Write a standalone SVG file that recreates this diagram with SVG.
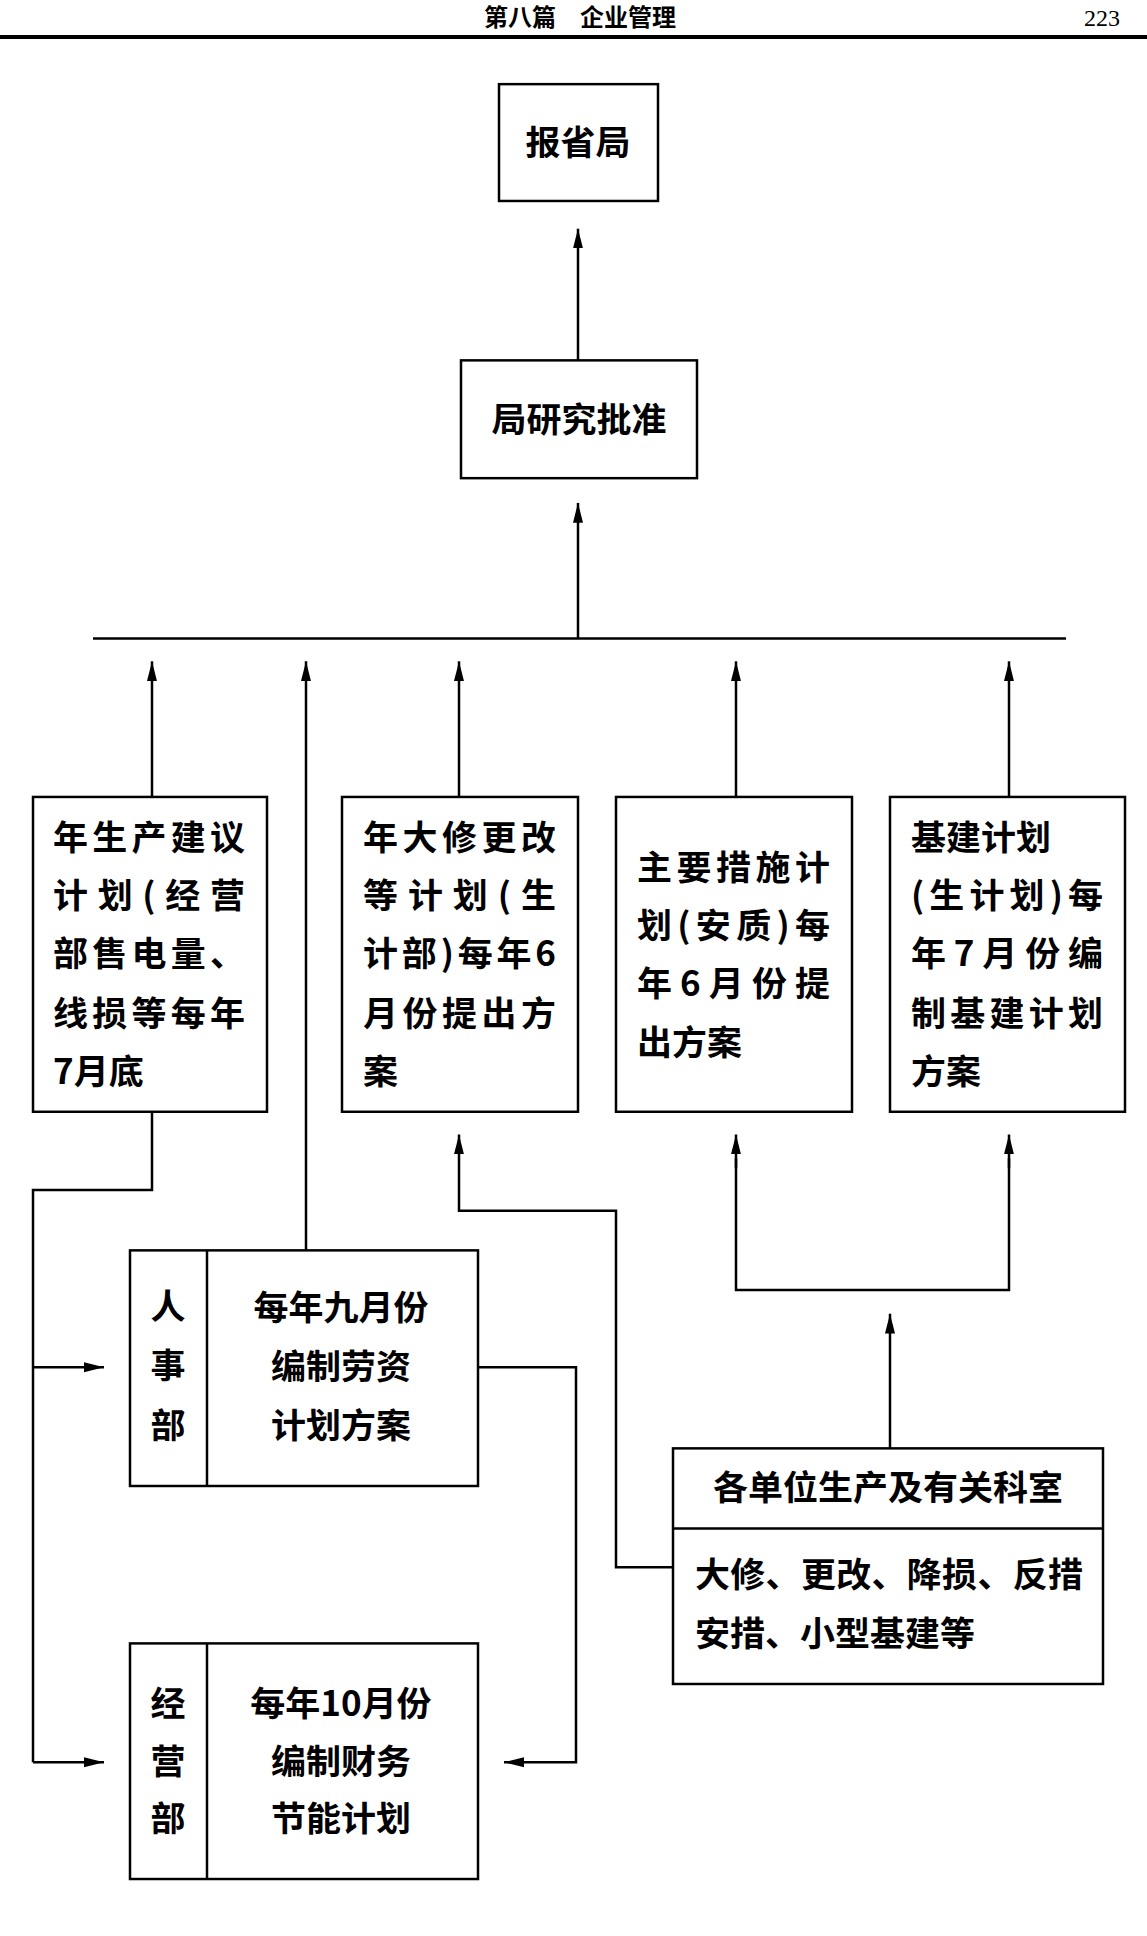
<svg xmlns="http://www.w3.org/2000/svg" width="1147" height="1936" viewBox="0 0 1147 1936">
<style>
.b{fill:#fff;stroke:#000;stroke-width:2.5}
.l{fill:none;stroke:#000;stroke-width:2.5}
text{font-family:"Noto Sans CJK SC","Noto Sans",sans-serif;font-size:35px;font-weight:bold;fill:#000}
.c{text-anchor:middle}
</style>
<defs><marker id="a" markerWidth="22" markerHeight="12" refX="20" refY="6" orient="auto" markerUnits="userSpaceOnUse" viewBox="0 0 22 12"><path d="M0,1 L20,6 L0,11 Z" fill="#000"/></marker></defs>
<rect width="1147" height="1936" fill="#fff"/>
<text x="580" y="26" class="c" style="font-size:24px">第八篇　企业管理</text>
<text x="1120" y="26" style="font-size:24px;font-family:'Liberation Serif',serif;font-weight:normal;text-anchor:end">223</text>
<line x1="0" y1="37" x2="1147" y2="37" stroke="#000" stroke-width="4"/>
<g transform="scale(1,0.99)">
<g id="connectors">
<line class="l" x1="578" y1="364" x2="578" y2="231" marker-end="url(#a)"/>
<line class="l" x1="578" y1="645" x2="578" y2="508" marker-end="url(#a)"/>
<line class="l" x1="93" y1="645" x2="1066" y2="645"/>
<line class="l" x1="152" y1="805" x2="152" y2="668" marker-end="url(#a)"/>
<line class="l" x1="306" y1="1263" x2="306" y2="668" marker-end="url(#a)"/>
<line class="l" x1="459" y1="805" x2="459" y2="668" marker-end="url(#a)"/>
<line class="l" x1="736" y1="805" x2="736" y2="668" marker-end="url(#a)"/>
<line class="l" x1="1009" y1="805" x2="1009" y2="668" marker-end="url(#a)"/>
<polyline class="l" points="152,1123 152,1202 33,1202 33,1780"/>
<line class="l" x1="33" y1="1381" x2="104" y2="1381" marker-end="url(#a)"/>
<line class="l" x1="33" y1="1780" x2="104" y2="1780" marker-end="url(#a)"/>
<polyline class="l" points="478,1381 576,1381 576,1780 504,1780" marker-end="url(#a)"/>
<line class="l" x1="890" y1="1463" x2="890" y2="1327" marker-end="url(#a)"/>
<polyline class="l" points="736,1170 736,1303 1009,1303 1009,1170"/>
<line class="l" x1="736" y1="1180" x2="736" y2="1146" marker-end="url(#a)"/>
<line class="l" x1="1009" y1="1180" x2="1009" y2="1146" marker-end="url(#a)"/>
<polyline class="l" points="673,1583 616,1583 616,1223 459,1223 459,1146" marker-end="url(#a)"/>
</g>
<g id="n1"><rect class="b" x="499" y="85" width="159" height="118"/><text x="578" y="157" class="c">报省局</text></g>
<g id="n2"><rect class="b" x="461" y="364" width="236" height="119"/><text x="579" y="436" class="c">局研究批准</text></g>
<g id="n3"><rect class="b" x="33" y="805" width="234" height="318"/>
<text x="53" y="859" textLength="192">年生产建议</text><text x="53" y="917" textLength="192">计划(经营</text><text x="53" y="976" textLength="192">部售电量、</text><text x="53" y="1036" textLength="192">线损等每年</text><text x="53" y="1095">7月底</text></g>
<g id="n4"><rect class="b" x="342" y="805" width="236" height="318"/>
<text x="363" y="859" textLength="193">年大修更改</text><text x="363" y="917" textLength="193">等计划(生</text><text x="363" y="976" textLength="193">计部)每年6</text><text x="363" y="1036" textLength="193">月份提出方</text><text x="363" y="1095">案</text></g>
<g id="n5"><rect class="b" x="616" y="805" width="236" height="318"/>
<text x="637" y="889" textLength="193">主要措施计</text><text x="637" y="947" textLength="193">划(安质)每</text><text x="637" y="1006" textLength="193">年6月份提</text><text x="637" y="1066">出方案</text></g>
<g id="n6"><rect class="b" x="890" y="805" width="235" height="318"/>
<text x="911" y="859">基建计划</text><text x="911" y="917" textLength="192">(生计划)每</text><text x="911" y="976" textLength="192">年7月份编</text><text x="911" y="1036" textLength="192">制基建计划</text><text x="911" y="1095">方案</text></g>
<g id="n7"><rect class="b" x="130" y="1263" width="348" height="238"/><line class="l" x1="207" y1="1263" x2="207" y2="1501"/>
<text x="168" y="1332" class="c">人</text><text x="168" y="1392" class="c">事</text><text x="168" y="1453" class="c">部</text>
<text x="341" y="1333" class="c">每年九月份</text><text x="341" y="1393" class="c">编制劳资</text><text x="341" y="1453" class="c">计划方案</text></g>
<g id="n8"><rect class="b" x="130" y="1660" width="348" height="238"/><line class="l" x1="207" y1="1660" x2="207" y2="1898"/>
<text x="168" y="1733" class="c">经</text><text x="168" y="1792" class="c">营</text><text x="168" y="1850" class="c">部</text>
<text x="341" y="1733" class="c">每年10月份</text><text x="341" y="1792" class="c">编制财务</text><text x="341" y="1850" class="c">节能计划</text></g>
<g id="n9"><rect class="b" x="673" y="1463" width="430" height="238"/><line class="l" x1="673" y1="1544" x2="1103" y2="1544"/>
<text x="888" y="1515" class="c">各单位生产及有关科室</text>
<text x="695" y="1603" textLength="388">大修、更改、降损、反措</text><text x="695" y="1663">安措、小型基建等</text></g>
</g>
</svg>
